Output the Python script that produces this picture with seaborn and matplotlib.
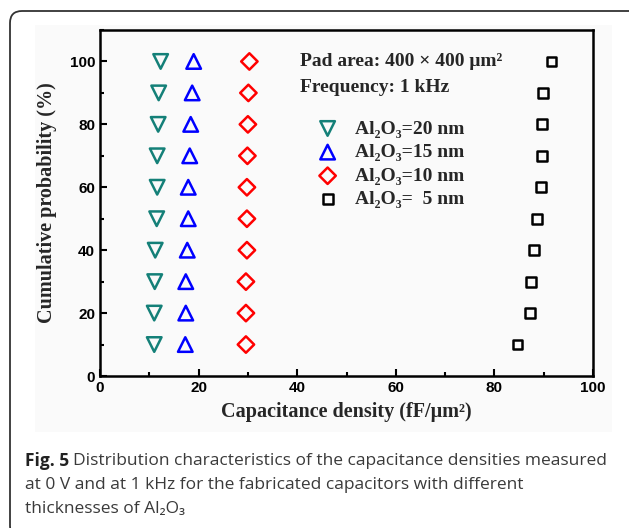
import matplotlib
matplotlib.use('Agg')
import matplotlib.pyplot as plt
import numpy as np
import pandas as pd
import seaborn as sns
from matplotlib.patches import FancyBboxPatch, Rectangle
from matplotlib.ticker import MultipleLocator

sns.set_style('white')

# cumulative probability (%) shared by all series
prob = [10, 20, 30, 40, 50, 60, 70, 80, 90, 100]

# capacitance density (fF/um^2)
cap_20nm = [11.0, 11.0, 11.1, 11.2, 11.5, 11.6, 11.6, 11.8, 11.9, 12.3]
cap_15nm = [17.3, 17.4, 17.4, 17.7, 17.9, 17.9, 18.2, 18.4, 18.7, 19.0]
cap_10nm = [29.6, 29.6, 29.6, 29.8, 29.8, 29.8, 29.9, 30.0, 30.1, 30.3]
cap_5nm = [84.7, 87.3, 87.5, 88.1, 88.7, 89.4, 89.6, 89.6, 89.8, 91.6]

labels = ['Al\u2082O\u2083=20 nm', 'Al\u2082O\u2083=15 nm',
          'Al\u2082O\u2083=10 nm', 'Al\u2082O\u2083=  5 nm']
colors = ['#148078', '#0000ff', '#ff0000', '#000000']
markers = ['v', '^', 'D', 's']
sizes = [110, 110, 70, 50]

serif = ['Liberation Serif', 'DejaVu Serif']
sans_cap = ['Open Sans', 'DejaVu Sans']

fig = plt.figure(figsize=(6.29, 5.28), dpi=100)
fig.patch.set_facecolor('white')

# light panel behind the chart and the rounded frame
fig.patches.append(Rectangle((35, 528 - 432), 577, 407, transform=None,
                             facecolor='#fafafa', edgecolor='none', zorder=-5))
fig.patches.append(FancyBboxPatch((10, -10), 640, 528 - 11 + 10, transform=None,
                                  boxstyle='round,pad=0,rounding_size=12',
                                  facecolor='none', edgecolor='#333333',
                                  linewidth=1.3, zorder=5))

ax = fig.add_axes([100 / 629, (528 - 376) / 528, 493 / 629, 346 / 528])
ax.set_facecolor('none')

for xs, lab, c, m, s in zip([cap_20nm, cap_15nm, cap_10nm, cap_5nm],
                            labels, colors, markers, sizes):
    df = pd.DataFrame({'cap': xs, 'prob': prob})
    sns.scatterplot(data=df, x='cap', y='prob', marker=m, s=s, color=c,
                    facecolors='none', edgecolor=c, linewidth=1.8,
                    label=lab, ax=ax)

ax.set_xlim(0, 100)
ax.set_ylim(0, 110)
ax.xaxis.set_major_locator(MultipleLocator(20))
ax.xaxis.set_minor_locator(MultipleLocator(10))
ax.yaxis.set_major_locator(MultipleLocator(20))
ax.yaxis.set_minor_locator(MultipleLocator(10))
ax.set_yticks([0, 20, 40, 60, 80, 100])
ax.tick_params(which='both', direction='in', width=1.5, colors='black',
               bottom=True, left=True, top=False, right=False)
ax.tick_params(which='major', length=5)
ax.tick_params(which='minor', length=3)
for t in ax.get_xticklabels() + ax.get_yticklabels():
    t.set_fontfamily('Liberation Sans')
    t.set_fontweight('bold')
    t.set_fontsize(11)
for sp in ax.spines.values():
    sp.set_linewidth(1.8)
    sp.set_color('black')

ax.set_xlabel('Capacitance density (fF/\u03bcm\u00b2)', family=serif,
              fontweight='bold', fontsize=14.5, labelpad=5)
ax.set_ylabel('Cumulative probability (%)', family=serif,
              fontweight='bold', fontsize=14.5, labelpad=9)

ax.text(0.406, 0.908, 'Pad area: 400 \u00d7 400 \u03bcm\u00b2', transform=ax.transAxes,
        family=serif, fontweight='bold', fontsize=14, va='center')
ax.text(0.406, 0.833, 'Frequency: 1 kHz', transform=ax.transAxes,
        family=serif, fontweight='bold', fontsize=14, va='center')

ax.legend(loc='upper left', bbox_to_anchor=(0.438, 0.740), frameon=False,
          prop={'family': serif, 'weight': 'bold', 'size': 14},
          handlelength=1.2, handletextpad=0.8, labelspacing=0.31,
          borderpad=0, borderaxespad=0)

# caption below the chart
cap_x = 25
cap_y = [528 - 461, 528 - 485, 528 - 509]
fig.canvas.draw()
t0 = fig.text(cap_x, cap_y[0], 'Fig. 5', transform=None, family=sans_cap,
              fontweight='bold', fontsize=12.5, color='#222222', va='center')
w0 = t0.get_window_extent(fig.canvas.get_renderer()).width
fig.text(cap_x + w0 + 4, cap_y[0],
         'Distribution characteristics of the capacitance densities measured',
         transform=None, family=sans_cap, fontsize=12.5, color='#3a3a3a', va='center')
fig.text(cap_x, cap_y[1], 'at 0 V and at 1 kHz for the fabricated capacitors with different',
         transform=None, family=sans_cap, fontsize=12.5, color='#3a3a3a', va='center')
fig.text(cap_x, cap_y[2], 'thicknesses of Al\u2082O\u2083',
         transform=None, family=sans_cap, fontsize=12.5, color='#3a3a3a', va='center')

fig.savefig('out.png', dpi=100)
